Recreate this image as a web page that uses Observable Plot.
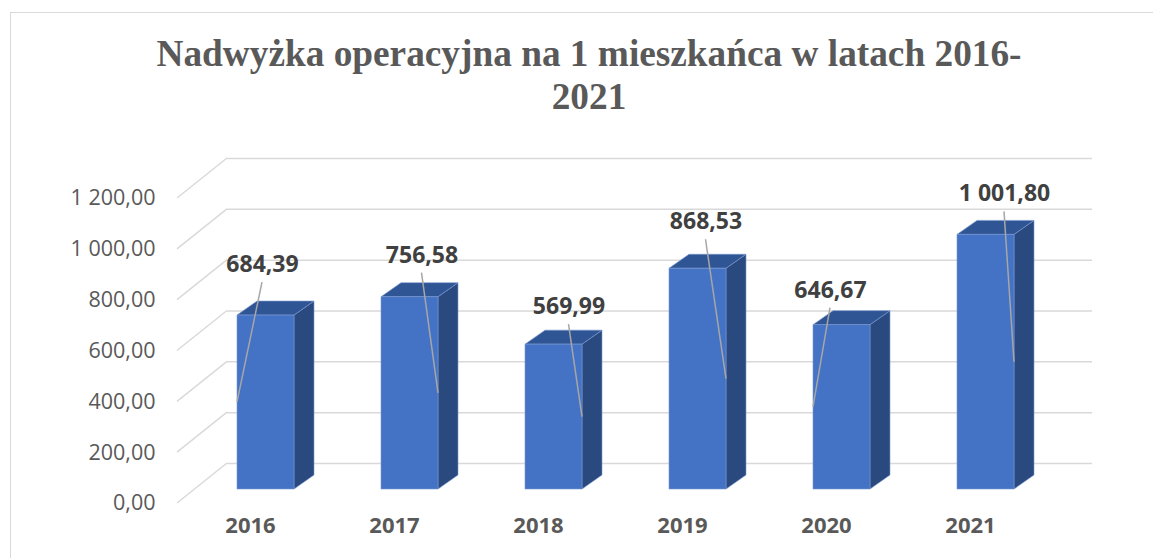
<!DOCTYPE html>
<html>
<head>
<meta charset="utf-8">
<script src="https://cdn.jsdelivr.net/npm/d3@7"></script>
<script src="https://cdn.jsdelivr.net/npm/@observablehq/plot@0.6"></script>
<style>
  html, body { margin: 0; padding: 0; width: 1153px; height: 558px; overflow: hidden; background: #fff; }
  #frame { position: absolute; left: 10px; top: 12px; width: 1200px; height: 600px; border: 1px solid #d9d9d9; pointer-events: none; }
  #title { position: absolute; left: 89px; width: 1000px; top: 32px; text-align: center;
    font-family: "Liberation Serif", "Times New Roman", serif; font-weight: bold; font-size: 37.3px; line-height: 43px; color: #595959; }
  #chart { position: absolute; left: 0; top: 0; }
</style>
</head>
<body>
<div id="title">Nadwyżka operacyjna na 1 mieszkańca w latach 2016-<br>2021</div>
<div id="chart"></div>
<div id="frame"></div>
<script>
// ---- data ----
const years = ["2016", "2017", "2018", "2019", "2020", "2021"];
const values = [684.39, 756.58, 569.99, 868.53, 646.67, 1001.80];
const yTicks = [0, 200, 400, 600, 800, 1000, 1200];

// label placement (pixel shifts of each value label from its bar's top-front centre)
const labelDx = [-3.5, 12, 15, 8, -11.5, 18.5];
const labelDy = [-51, -42, -38, -47, -35, -41];

const data = years.map((year, i) => ({year, value: values[i], i}));

// ---- 3D geometry (pixels) ----
const WALL_DX = 50, WALL_DY = 40;      // floor depth (front-left offset of the wall)
const BAR_FX = -34.5, BAR_FY = 26;     // bar front face offset from the back wall
const BAR_HW = 28.5;                   // half width of bar front face
const BAR_DX = 20, BAR_DY = 14;        // bar depth

const locale = d3.formatLocale({decimal: ",", thousands: "\u00a0", grouping: [3]});
const fmt = locale.format(",.2f");

function bandInfo(x) {
  return typeof x.bandwidth === "function" ? x.bandwidth() : (x(years[1]) - x(years[0]));
}

function diagonals(index, scales) {
  const y = scales.y;
  const left = 227;
  const g = d3.create("svg:g").attr("stroke", "#d9d9d9").attr("stroke-width", 1.5).attr("fill", "none");
  for (const t of yTicks) {
    g.append("line")
      .attr("x1", left - WALL_DX).attr("y1", y(t) + WALL_DY)
      .attr("x2", left).attr("y2", y(t));
  }
  return g.node();
}

function bars3d(index, scales) {
  const x = scales.x, y = scales.y;
  const bw = bandInfo(x);
  const g = d3.create("svg:g").attr("stroke", "#7a98d2").attr("stroke-width", 0.6).attr("stroke-linejoin", "round");
  for (const d of data) {
    const xc = x(d.year) + bw / 2 + BAR_FX;
    const x0 = xc - BAR_HW, x1 = xc + BAR_HW;
    const yb = y(0) + BAR_FY, yt = y(d.value) + BAR_FY;
    g.append("polygon").attr("fill", "#2a4a7f")
      .attr("points", [[x1, yt], [x1 + BAR_DX, yt - BAR_DY], [x1 + BAR_DX, yb - BAR_DY], [x1, yb]].join(" "));
    g.append("polygon").attr("fill", "#305595")
      .attr("points", [[x0, yt], [x0 + BAR_DX, yt - BAR_DY], [x1 + BAR_DX, yt - BAR_DY], [x1, yt]].join(" "));
    g.append("rect").attr("fill", "#4472c4")
      .attr("x", x0).attr("y", yt).attr("width", x1 - x0).attr("height", yb - yt);
  }
  return g.node();
}

function leaders(index, scales) {
  const x = scales.x, y = scales.y;
  const bw = bandInfo(x);
  const g = d3.create("svg:g").attr("stroke", "#a6a6a6").attr("stroke-width", 1.5);
  for (const d of data) {
    const xc = x(d.year) + bw / 2 + BAR_FX;
    const lx = xc + labelDx[d.i];
    const ly = y(d.value) + BAR_FY + labelDy[d.i];
    const ex = labelDx[d.i] < 0 ? xc - BAR_HW : xc + BAR_HW;
    const ey = y(d.value / 2) + BAR_FY;
    g.append("line").attr("x1", lx).attr("y1", ly + 18).attr("x2", ex).attr("y2", ey);
  }
  return g.node();
}

const valueLabels = data.map(d => Plot.text([d], {
  x: "year", y: "value", text: dd => fmt(dd.value),
  dx: BAR_FX + labelDx[d.i], dy: BAR_FY + labelDy[d.i],
  fontFamily: "Open Sans", fontWeight: "bold", fontSize: 23, fill: "#404040"
}));

const chart = Plot.plot({
  width: 1153, height: 558,
  marginLeft: 227, marginRight: 61, marginTop: 158, marginBottom: 95,
  style: {background: "transparent", overflow: "visible"},
  x: {type: "band", domain: years, padding: 0, axis: null},
  y: {domain: [0, 1200], axis: null},
  marks: [
    Plot.ruleY(yTicks, {stroke: "#d9d9d9", strokeWidth: 1.5}),
    diagonals,
    bars3d,
    leaders,
    Plot.text(yTicks, {y: d => d, text: d => fmt(d), frameAnchor: "left", textAnchor: "end",
      dx: -72, dy: WALL_DY, fontFamily: "Open Sans", fontSize: 21.5, fill: "#595959"}),
    Plot.text(years, {x: d => d, text: d => d, frameAnchor: "bottom",
      dx: -WALL_DX, dy: WALL_DY + 29, fontFamily: "Open Sans", fontWeight: "bold", fontSize: 22, fill: "#595959"}),
    ...valueLabels
  ]
});
document.getElementById("chart").appendChild(chart);
</script>
</body>
</html>
